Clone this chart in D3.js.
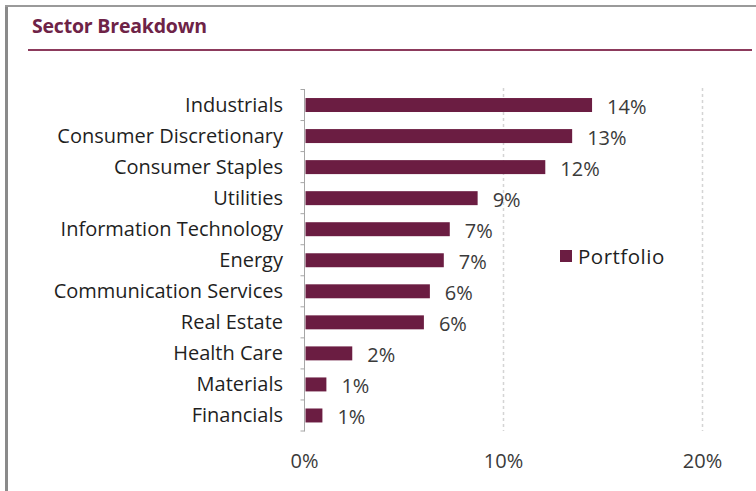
<!DOCTYPE html>
<html>
<head>
<meta charset="utf-8">
<script src="https://cdn.jsdelivr.net/npm/d3@7"></script>
<style>
  body { margin: 0; background: #fff; }
  svg { display: block; }
</style>
</head>
<body>
<div id="chart"></div>
<script>
// Sector weights (%)
const sectors = ["Industrials", "Consumer Discretionary", "Consumer Staples", "Utilities",
  "Information Technology", "Energy", "Communication Services", "Real Estate",
  "Health Care", "Materials", "Financials"];
const weights = [14.45, 13.45, 12.1, 8.7, 7.3, 7.0, 6.3, 6.0, 2.4, 1.1, 0.9];
const xTicks = [0, 10, 20];
const seriesName = "Portfolio";

const width = 756, height = 491;
const barColor = "#6b1d42";
const font = "'Open Sans', sans-serif";

const svg = d3.select("#chart")
  .append("svg")
  .attr("width", width)
  .attr("height", height);

// Frame (left and top edge only)
svg.append("rect").attr("x", 5).attr("y", 5).attr("width", 3).attr("height", height - 5).attr("fill", "#8a8a8a");
svg.append("rect").attr("x", 5).attr("y", 5).attr("width", width - 5).attr("height", 2).attr("fill", "#9a9a9a");

// Title
svg.append("text")
  .attr("x", 32)
  .attr("y", 33)
  .style("font-family", font)
  .style("font-size", "19.5px")
  .style("font-weight", "700")
  .style("letter-spacing", "-0.2px")
  .style("fill", "#6e2347")
  .text("Sector Breakdown");

svg.append("line")
  .attr("x1", 28).attr("x2", 752)
  .attr("y1", 50).attr("y2", 50)
  .attr("stroke", "#8c3a5c")
  .attr("stroke-width", 2);

// Scales
const x = d3.scaleLinear()
  .domain([0, 20])
  .range([304.5, 702.5]);

const y = d3.scaleBand()
  .domain(sectors)
  .range([89.5, 431])
  .paddingInner(0.55)
  .paddingOuter(0.275);

// Gridlines
svg.selectAll(".grid")
  .data(xTicks.filter(d => d > 0))
  .enter()
  .append("line")
  .attr("x1", d => x(d)).attr("x2", d => x(d))
  .attr("y1", 88).attr("y2", 431)
  .attr("stroke", "#d4d4d4")
  .attr("stroke-width", 1.5)
  .attr("stroke-dasharray", "3,3");

// Y axis line with ticks at band edges
const edges = sectors.map(s => y(s) - y.step() * y.paddingInner() / 2).concat([431]);
svg.append("line")
  .attr("x1", x(0)).attr("x2", x(0))
  .attr("y1", 89).attr("y2", 431.5)
  .attr("stroke", "#a6a6a6")
  .attr("stroke-width", 1);
svg.selectAll(".ytick")
  .data(edges)
  .enter()
  .append("line")
  .attr("x1", x(0) - 4).attr("x2", x(0))
  .attr("y1", d => d).attr("y2", d => d)
  .attr("stroke", "#a6a6a6");

// Bars
svg.selectAll(".bar")
  .data(weights)
  .enter()
  .append("rect")
  .attr("x", x(0) + 1)
  .attr("y", (d, i) => y(sectors[i]))
  .attr("width", d => x(d) - x(0) - 1)
  .attr("height", y.bandwidth())
  .attr("fill", barColor);

// Category labels
svg.selectAll(".cat")
  .data(sectors)
  .enter()
  .append("text")
  .attr("x", 283)
  .attr("y", d => y(d) + y.bandwidth() / 2)
  .attr("dy", "0.35em")
  .attr("text-anchor", "end")
  .style("font-family", font)
  .style("font-size", "20px")
  .style("fill", "#1f1f1f")
  .text(d => d);

// Value labels
svg.selectAll(".val")
  .data(weights)
  .enter()
  .append("text")
  .attr("x", d => x(d) + 15)
  .attr("y", (d, i) => y(sectors[i]) + y.bandwidth() / 2 + 2)
  .attr("dy", "0.35em")
  .style("font-family", font)
  .style("font-size", "20px")
  .style("fill", "#3a3a3a")
  .text(d => Math.round(d) + "%");

// X tick labels
svg.selectAll(".xlab")
  .data(xTicks)
  .enter()
  .append("text")
  .attr("x", d => x(d))
  .attr("y", 468)
  .attr("text-anchor", "middle")
  .style("font-family", font)
  .style("font-size", "20px")
  .style("fill", "#3a3a3a")
  .text(d => d + "%");

// Legend
svg.append("rect")
  .attr("x", 560).attr("y", 250)
  .attr("width", 12).attr("height", 12)
  .attr("fill", barColor);
svg.append("text")
  .attr("x", 578).attr("y", 264)
  .style("font-family", font)
  .style("font-size", "20.5px")
  .style("letter-spacing", "0.5px")
  .style("fill", "#1f1f1f")
  .text(seriesName);
</script>
</body>
</html>
